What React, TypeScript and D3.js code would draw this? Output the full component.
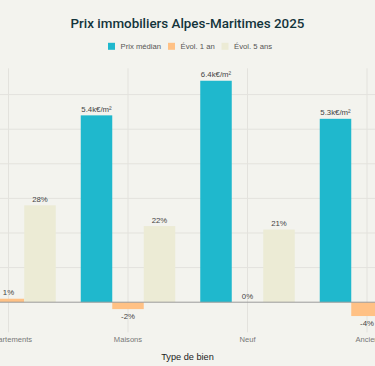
import React from "react";
import * as d3 from "d3";

// chart values
const categories = ["Appartements", "Maisons", "Neuf", "Ancien"];
const seriesNames = ["Prix médian", "Évol. 1 an", "Évol. 5 ans"];
const prixMedian = [5.1, 5.4, 6.4, 5.3]; // k€/m²
const evol1an = [1, -2, 0, -4]; // %
const evol5ans = [28, 22, 21, 24]; // %
const yTicks = [0, 10, 20, 30, 40, 50, 60];
const colors = ["#1fb8cd", "#ffc185", "#ecebd5"];

const width = 375;
const height = 366;
const font = "'Liberation Sans', Arial, sans-serif";

export default function App() {
  // plot area is wider than the picture: the first and last groups are cut off
  const x = d3.scaleBand().domain(categories).range([-51.25, 426.75]).paddingInner(0).paddingOuter(0);
  const inner = d3.scaleBand().domain(seriesNames).range([0, 94.5]);
  const y = d3.scaleLinear().domain([-8.7, 67.6]).range([332.3, 68.3]);

  const rows = categories.map((c, i) => [
    { key: seriesNames[0], value: prixMedian[i] * 10, label: `${prixMedian[i]}k€/m²` },
    { key: seriesNames[1], value: evol1an[i], label: `${evol1an[i]}%` },
    { key: seriesNames[2], value: evol5ans[i], label: `${evol5ans[i]}%` },
  ]);

  const legendX = [108, 168, 221.5];

  return (
    <div style={{ position: "fixed", left: 0, top: 0 }}>
      <svg width={width} height={height} style={{ display: "block", fontFamily: font }}>
        <rect width={width} height={height} fill="#f3f3ee" />

        <text x={187.5} y={27.6} textAnchor="middle" fontSize={13.4} fontWeight={500}
          fontFamily="Roboto, 'Liberation Sans', sans-serif" fill="#13343b">
          Prix immobiliers Alpes-Maritimes 2025
        </text>

        {/* legend */}
        {seriesNames.map((s, i) => (
          <g key={s} transform={`translate(${legendX[i]}, 46.3)`}>
            <rect x={0} y={-3.5} width={7} height={7} fill={colors[i]} />
            <text x={12.5} y={2.8} fontSize={7.7} fill="#555">{s}</text>
          </g>
        ))}

        {/* grid */}
        {yTicks.filter(t => t !== 0).map(t => (
          <line key={t} x1={0} x2={width} y1={y(t)} y2={y(t)} stroke="#e3e2dd" strokeWidth={1} />
        ))}
        {categories.map(c => (
          <line key={c} x1={x(c)! + x.bandwidth() / 2} x2={x(c)! + x.bandwidth() / 2}
            y1={y(67.6)} y2={y(-8.7)} stroke="#e3e2dd" strokeWidth={1} />
        ))}

        {/* bars */}
        {categories.map((c, i) => {
          const x0 = x(c)! + (x.bandwidth() - 94.5) / 2;
          return (
            <g key={c} transform={`translate(${x0},0)`}>
              {rows[i].map((d, j) => {
                const top = y(Math.max(0, d.value));
                const bot = y(Math.min(0, d.value));
                const bx = inner(d.key)!;
                const cx = bx + inner.bandwidth() / 2;
                return (
                  <g key={d.key}>
                    <rect x={bx} y={top} width={inner.bandwidth()} height={bot - top} fill={colors[j]} />
                    <text x={cx} y={d.value < 0 ? bot + 9.5 : top - 3.5} textAnchor="middle"
                      fontSize={7.8} fill="#444">
                      {d.label}
                    </text>
                  </g>
                );
              })}
            </g>
          );
        })}

        {/* zero line */}
        <line x1={0} x2={width} y1={y(0)} y2={y(0)} stroke="#9a9a9a" strokeWidth={1} />

        {/* x axis labels */}
        {categories.map(c => (
          <text key={c} x={x(c)! + x.bandwidth() / 2} y={341.5} textAnchor="middle" fontSize={7.6} fill="#777">
            {c}
          </text>
        ))}
        <text x={187.5} y={359.5} textAnchor="middle" fontSize={9.2} fill="#222">Type de bien</text>
      </svg>
    </div>
  );
}
